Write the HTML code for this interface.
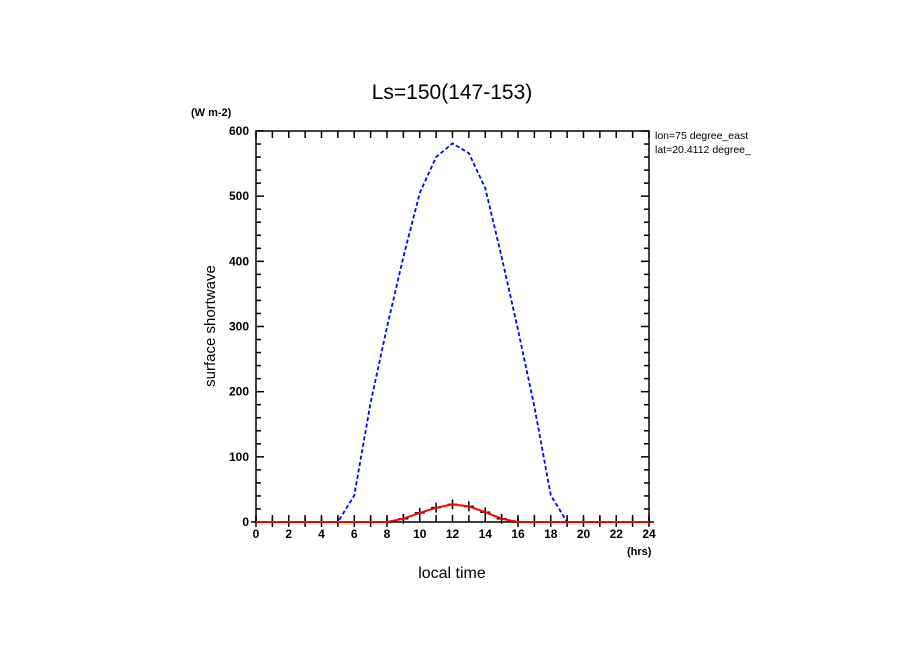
<!DOCTYPE html>
<html><head><meta charset="utf-8"><style>
html,body{margin:0;padding:0;background:#fff}
svg{display:block;font-family:"Liberation Sans",sans-serif}
</style></head><body>
<svg id="chart" width="904" height="654" viewBox="0 0 904 654">
<rect width="904" height="654" fill="#fff"/>
<text x="452" y="99" font-size="21" text-anchor="middle">Ls=150(147-153)</text>
<text x="191" y="116" font-size="11" font-weight="bold">(W m-2)</text>
<text x="655" y="139" font-size="10.5">lon=75 degree_east</text>
<text x="655" y="153" font-size="10.5">lat=20.4112 degree_</text>
<text transform="translate(215,326) rotate(-90)" font-size="15" text-anchor="middle">surface shortwave</text>
<text x="452" y="578" font-size="16" text-anchor="middle">local time</text>
<text x="627" y="555" font-size="11" font-weight="bold">(hrs)</text>
<g id="axes"></g>
<g id="series"></g>
</svg>
<script>
const hours = [0,1,2,3,4,5,6,7,8,9,10,11,12,13,14,15,16,17,18,19,20,21,22,23,24];
const downward = [0,0,0,0,0,0,41,183,299,407,505,560,581,566,512,407,295,177,41,0,0,0,0,0,0];
const absorbed = [0,0,0,0,0,0,0,0,0,5,14,22,27,24,15,5,0,0,0,0,0,0,0,0,0];
const xTicks = [0,2,4,6,8,10,12,14,16,18,20,22,24];
const yTicks = [0,100,200,300,400,500,600];

const L=256,R=649,T=131,B=522;
const xs = h => L + (h/24)*(R-L);
const ys = v => B - (v/600)*(B-T);
const NS='http://www.w3.org/2000/svg';
function mk(tag, attrs, parent){const e=document.createElementNS(NS,tag);for(const k in attrs)e.setAttribute(k,attrs[k]);parent.appendChild(e);return e;}
const axes=document.getElementById('axes'), series=document.getElementById('series');

const frame=mk('rect',{x:L,y:T,width:R-L,height:B-T,fill:'none',stroke:'#000','stroke-width':1.5},axes);



for(let h=0;h<=24;h++){
  const x=xs(h);
  const t1=mk('line',{x1:x,y1:B,x2:x,y2:B-7,stroke:'#000','stroke-width':1.5},axes);
  
  
  const t2=mk('line',{x1:x,y1:T,x2:x,y2:T+7,stroke:'#000','stroke-width':1.5},axes);
  
  
}
xTicks.forEach(h=>{
  const t=mk('text',{x:xs(h),y:B+16,'font-size':12,'font-weight':'bold','text-anchor':'middle'},axes);
  t.textContent=h;
  
  
});
for(let v=0;v<=600;v+=20){
  const y=ys(v), len=(v%100===0)?8:5;
  const a=mk('line',{x1:L,y1:y,x2:L+len,y2:y,stroke:'#000','stroke-width':1.5},axes);
  
  
  const b=mk('line',{x1:R,y1:y,x2:R-len,y2:y,stroke:'#000','stroke-width':1.5},axes);
  
  
}
yTicks.forEach(v=>{
  const t=mk('text',{x:L-7,y:ys(v)+4,'font-size':12,'font-weight':'bold','text-anchor':'end'},axes);
  t.textContent=v;
  
  
});

const pts = arr => hours.map((h,i)=>xs(h).toFixed(1)+','+ys(arr[i]).toFixed(1)).join(' ');
const blue=mk('polyline',{points:pts(downward),fill:'none',stroke:'#0000ff','stroke-width':1.8,'stroke-dasharray':'4,2.5'},series);


hours.forEach((h,i)=>{
  const x=xs(h), y=ys(absorbed[i]);
  const c=mk('path',{d:`M${x-5},${y}H${x+5}M${x},${y-5}V${y+5}`,stroke:'#000','stroke-width':1.5},series);
  
  
});
const red=mk('polyline',{points:pts(absorbed),fill:'none',stroke:'#ff0000','stroke-width':2},series);


</script>
</body></html>
